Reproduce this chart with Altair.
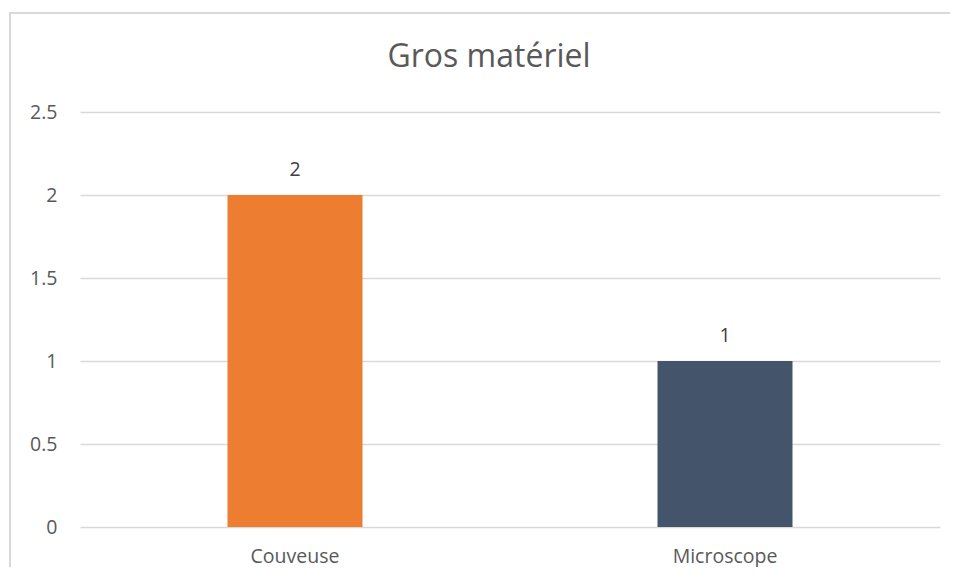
import altair as alt
import pandas as pd

title_text = "Gros matériel"
categories = ["Couveuse", "Microscope"]
values = [2, 1]
colors = ["#ED7D31", "#44546A"]

df = pd.DataFrame({"cat": categories, "val": values, "color": colors})

FONT = "Open Sans"

x = alt.X("cat:N", sort=categories, title=None,
          scale=alt.Scale(paddingInner=0, paddingOuter=0),
          axis=alt.Axis(labelAngle=0, domain=False, ticks=False, labelPadding=20,
                        labelFontSize=19.5, labelColor="#595959", labelFont=FONT))
y = alt.Y("val:Q", title=None, scale=alt.Scale(domain=[0, 2.5], nice=False),
          axis=alt.Axis(values=[0, 0.5, 1, 1.5, 2, 2.5], domain=False, ticks=False,
                        labelPadding=23, labelFontSize=19.5, labelColor="#595959",
                        labelFont=FONT, gridColor="#D9D9D9", gridWidth=1.5,
                        labelExpr="datum.value == 0 ? '0' : format(datum.value, '.2~f')"))

base = alt.Chart(df)

bars = base.mark_bar(size=135).encode(
    x=x, y=y, color=alt.Color("color:N", scale=None)
)

labels = base.mark_text(dy=-15, baseline="bottom", fontSize=19.5, color="#404040", font=FONT).encode(
    x=alt.X("cat:N", sort=categories), y="val:Q", text="val:Q"
)

title = alt.Chart(pd.DataFrame({"t": [title_text]})).mark_text(
    fontSize=32, font=FONT, color="#595959", baseline="middle", align="center"
).encode(text="t:N", x=alt.value(409), y=alt.value(-55))

top_border = alt.Chart(df).mark_rule(color="#D9D9D9", strokeWidth=2).encode(
    x=alt.value(-70), x2=alt.value(870), y=alt.value(-99)
)
left_border = alt.Chart(df).mark_rule(color="#D9D9D9", strokeWidth=2).encode(
    x=alt.value(-70), y=alt.value(-100), y2=alt.value(460)
)

chart = alt.layer(top_border, left_border, bars, labels, title).properties(
    width=860, height=415,
    autosize=alt.AutoSizeParams(type="none"),
    padding={"left": 72, "top": 104, "right": 10, "bottom": 40},
).configure_view(stroke=None)

chart.save("out.html", embed_options={"renderer": "svg", "actions": False})
